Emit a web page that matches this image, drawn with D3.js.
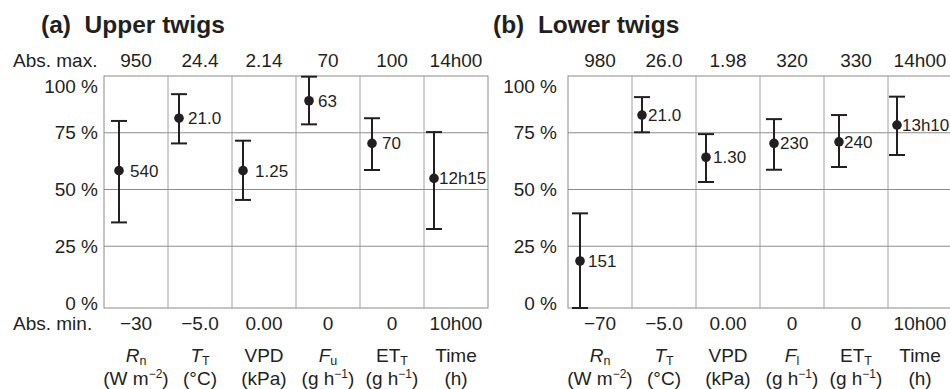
<!DOCTYPE html>
<html>
<head>
<meta charset="utf-8">
<script src="https://cdn.jsdelivr.net/npm/d3@7"></script>
<style>
body { margin: 0; background: #fff; }
text { font-family: "Liberation Sans", Arial, sans-serif; fill: #231f20; }
.title { font-size: 24.5px; font-weight: bold; }
.lab { font-size: 19px; }
.val { font-size: 17px; }
</style>
</head>
<body>
<div id="chart"></div>
<script>
// variable names, shared by both panels
var nameMain = ["R", "T", "VPD", "F", "ET", "Time"]
var nameItalic = [true, true, false, true, false, false]
var upperSub = ["n", "T", "", "u", "T", ""]
var lowerSub = ["n", "T", "", "l", "T", ""]
var unitMain = ["(W m", "(°C)", "(kPa)", "(g h", "(g h", "(h)"]
var unitSup = ["−2", "", "", "−1", "−1", ""]
var yTicks = [0, 25, 50, 75, 100]

// (a) upper twigs, values in % of the abs. range
var upperMax = ["950", "24.4", "2.14", "70", "100", "14h00"]
var upperMin = ["−30", "−5.0", "0.00", "0", "0", "10h00"]
var upperMean = [58.3, 81.4, 58.3, 89.1, 70.3, 54.9]
var upperHigh = [80.2, 92.0, 71.5, 99.7, 81.4, 75.3]
var upperLow = [35.5, 70.3, 45.4, 78.7, 58.6, 32.6]
var upperText = ["540", "21.0", "1.25", "63", "70", "12h15"]

// (b) lower twigs
var lowerMax = ["980", "26.0", "1.98", "320", "330", "14h00"]
var lowerMin = ["−70", "−5.0", "0.00", "0", "0", "10h00"]
var lowerMean = [18.5, 82.8, 64.2, 70.3, 71.0, 78.4]
var lowerHigh = [39.5, 90.7, 74.4, 81.0, 82.8, 90.9]
var lowerLow = [-2.2, 75.2, 53.3, 58.7, 59.9, 65.2]
var lowerText = ["151", "21.0", "1.30", "230", "240", "13h10"]

var width = 950, height = 389
var svg = d3.select("#chart").append("svg")
    .attr("width", width)
    .attr("height", height)
    .style("display", "block")

var yScale = d3.scaleLinear().domain([0, 100]).range([303, 76])
var frameBottom = 308

function drawPanel(p)
{
    var xScale = d3.scaleBand()
        .domain(d3.range(6))
        .range([p.left, p.left + 384])
    var bw = xScale.bandwidth()
    var cx = function(i) { return xScale(i) + bw / 2 }
    var g = svg.append("g")

    g.append("text")
        .attr("class", "title")
        .attr("x", p.titleX)
        .attr("y", 33)
        .attr("xml:space", "preserve")
        .text(p.title)

    // grid + frame
    g.selectAll(".hgrid")
        .data(yTicks.filter(function(t) { return t > 0 && t < 100 }))
        .enter().append("line")
        .attr("x1", p.left).attr("x2", p.left + 384)
        .attr("y1", function(t) { return yScale(t) })
        .attr("y2", function(t) { return yScale(t) })
        .attr("stroke", "#8c8c8c").attr("stroke-width", 1)
    g.selectAll(".vgrid")
        .data(d3.range(1, 6))
        .enter().append("line")
        .attr("x1", function(i) { return xScale(i) })
        .attr("x2", function(i) { return xScale(i) })
        .attr("y1", yScale(100)).attr("y2", frameBottom)
        .attr("stroke", "#a0a0a0").attr("stroke-width", 1)
    g.append("rect")
        .attr("x", p.left).attr("y", yScale(100))
        .attr("width", 384).attr("height", frameBottom - yScale(100))
        .attr("fill", "none")
        .attr("stroke", "#8c8c8c").attr("stroke-width", 1)

    // y tick labels (100 % sits a bit below the frame top)
    g.selectAll(".ylab")
        .data(yTicks)
        .enter().append("text")
        .attr("class", "lab")
        .attr("x", p.left - p.tickGap)
        .attr("y", function(t) { return yScale(t) + (t === 100 ? 10 : 0) })
        .attr("dy", "0.35em")
        .attr("text-anchor", "end")
        .text(function(t) { return t + " %" })

    if (p.rowLabels) {
        g.append("text").attr("class", "lab")
            .attr("x", 13).attr("y", 67).text("Abs. max.")
        g.append("text").attr("class", "lab")
            .attr("x", 13).attr("y", 330).text("Abs. min.")
    }

    g.selectAll(".maxlab")
        .data(p.max)
        .enter().append("text")
        .attr("class", "lab")
        .attr("x", function(d, i) { return cx(i) })
        .attr("y", 67)
        .attr("text-anchor", "middle")
        .text(function(d) { return d })
    g.selectAll(".minlab")
        .data(p.min)
        .enter().append("text")
        .attr("class", "lab")
        .attr("x", function(d, i) { return cx(i) })
        .attr("y", 330)
        .attr("text-anchor", "middle")
        .text(function(d) { return d })

    // variable names with subscripts
    var nm = g.selectAll(".name")
        .data(nameMain)
        .enter().append("text")
        .attr("class", "lab")
        .attr("x", function(d, i) { return cx(i) })
        .attr("y", 362)
        .attr("text-anchor", "middle")
    nm.append("tspan")
        .style("font-style", function(d, i) { return nameItalic[i] ? "italic" : "normal" })
        .text(function(d) { return d })
    nm.append("tspan")
        .attr("dy", 2.5)
        .style("font-size", "12.5px")
        .text(function(d, i) { return p.sub[i] })

    var un = g.selectAll(".unit")
        .data(unitMain)
        .enter().append("text")
        .attr("class", "lab")
        .attr("x", function(d, i) { return cx(i) })
        .attr("y", 384.5)
        .attr("text-anchor", "middle")
    un.append("tspan").text(function(d) { return d })
    un.append("tspan")
        .attr("dy", -7)
        .style("font-size", "12px")
        .text(function(d, i) { return unitSup[i] })
    un.append("tspan")
        .attr("dy", 7)
        .text(function(d, i) { return unitSup[i] ? ")" : "" })

    // error bars, placed near the left of each column
    var px = function(i) { return xScale(i) + p.offset[i] }
    var bars = g.selectAll(".bar")
        .data(p.mean)
        .enter().append("g")
    bars.append("line")
        .attr("x1", function(d, i) { return px(i) })
        .attr("x2", function(d, i) { return px(i) })
        .attr("y1", function(d, i) { return yScale(p.high[i]) })
        .attr("y2", function(d, i) { return yScale(p.low[i]) })
        .attr("stroke", "#231f20").attr("stroke-width", 2)
    bars.append("line")
        .attr("x1", function(d, i) { return px(i) - 8 })
        .attr("x2", function(d, i) { return px(i) + 8 })
        .attr("y1", function(d, i) { return yScale(p.high[i]) })
        .attr("y2", function(d, i) { return yScale(p.high[i]) })
        .attr("stroke", "#231f20").attr("stroke-width", 2)
    bars.append("line")
        .attr("x1", function(d, i) { return px(i) - 8 })
        .attr("x2", function(d, i) { return px(i) + 8 })
        .attr("y1", function(d, i) { return yScale(p.low[i]) })
        .attr("y2", function(d, i) { return yScale(p.low[i]) })
        .attr("stroke", "#231f20").attr("stroke-width", 2)
    bars.append("circle")
        .attr("cx", function(d, i) { return px(i) })
        .attr("cy", function(d) { return yScale(d) })
        .attr("r", 4.8)
        .attr("fill", "#231f20")
    bars.append("text")
        .attr("class", "val")
        .attr("x", function(d, i) { return px(i) + p.textGap[i] })
        .attr("y", function(d) { return yScale(d) })
        .attr("dy", "0.35em")
        .text(function(d, i) { return p.text[i] })
}

drawPanel({
    left: 104, title: "(a)  Upper twigs", titleX: 41, rowLabels: true, tickGap: 6,
    offset: [15, 11, 11, 13, 12, 10], textGap: [11, 9, 12, 9, 10, 5],
    max: upperMax, min: upperMin, mean: upperMean, high: upperHigh, low: upperLow,
    text: upperText, sub: upperSub
})
drawPanel({
    left: 568, title: "(b)  Lower twigs", titleX: 493, rowLabels: false, tickGap: 11,
    offset: [12, 10, 10, 14, 15, 9], textGap: [8, 6, 7, 6, 5, 5],
    max: lowerMax, min: lowerMin, mean: lowerMean, high: lowerHigh, low: lowerLow,
    text: lowerText, sub: lowerSub
})
</script>
</body>
</html>
